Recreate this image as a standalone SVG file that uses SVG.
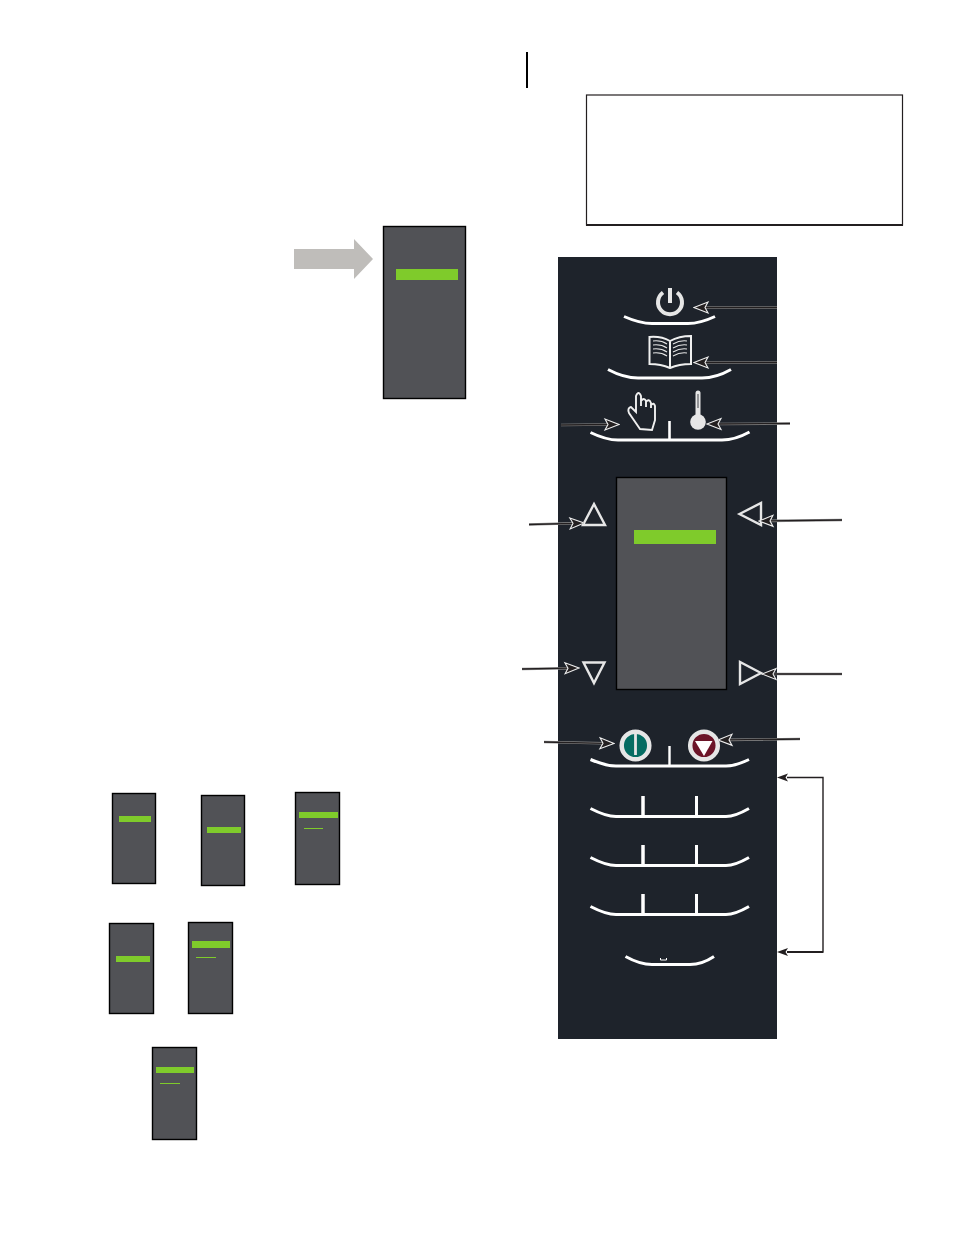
<svg xmlns="http://www.w3.org/2000/svg" width="954" height="1235" viewBox="0 0 954 1235">
<style>
.scr{fill:#515256;stroke:#000;stroke-width:1.4}
.grn{fill:#7fcb2b}
.gl{stroke:#7fcb2b;stroke-width:1;fill:none}
.arc{fill:none;stroke:#fff;stroke-width:3}
.tick{stroke:#fff;fill:none}
.ic{fill:none;stroke:#e6e6e6;stroke-width:2.4}
.th{fill:none;stroke:#e6e6e6;stroke-width:1.1}
.ar{fill:none;stroke:#8f8f8f;stroke-width:2.6}
.ak{fill:none;stroke:#231f20;stroke-width:1.3}
.hd{marker-start:url(#oh)}
.br{fill:none;stroke:#231f20;stroke-width:1.4}
</style>
<defs>
<marker id="oh" markerUnits="userSpaceOnUse" markerWidth="20" markerHeight="18" refX="1" refY="9" orient="auto">
<path d="M1,9 L15,3.500 L12,9 L15,14.500 Z" fill="#231f20" stroke="#efefef" stroke-width="1.100"/>
</marker>
</defs>
<g id="margin-rule"><rect x="526" y="52" width="2" height="36" fill="#000"/></g>
<g id="note-box"><rect x="586.500" y="95" width="316" height="130" fill="#fff" stroke="#231f20" stroke-width="1.200"/><path d="M586,225H903" stroke="#231f20" stroke-width="2"/></g>
<g id="grey-arrow"><path d="M294,249H354V239L373,259L354,279V269H294Z" fill="#bfbdba"/></g>
<g id="top-screen"><rect class="scr" x="383.500" y="226.500" width="82" height="172"/><rect class="grn" x="396" y="269" width="62" height="11"/></g>
<g id="panel"><rect x="558" y="257" width="219" height="782" fill="#1e232b"/></g>
<g id="power-key">
<path class="arc" d="M624,316.500Q640,323.500 652,323.500H688Q700,323.500 715,316.500"/>
<path d="M663,292.500A12,12 0 1 0 677,292.500" fill="none" stroke="#e6e6e6" stroke-width="4"/>
<path d="M670,288V303" fill="none" stroke="#e6e6e6" stroke-width="4"/>
</g>
<g id="book-key">
<path class="arc" d="M608,369.500Q624,378 638,378H702Q716,378 731,369.500"/>
<path d="M649.500,337V364Q661,364 670,368Q679,364 691,364V336Q679,336 670,341Q661,336 649.500,337Z M670,341V368" fill="none" stroke="#f0f0f0" stroke-width="2"/>
<path class="th" d="M653,341Q661,340 667,344M653,345Q661,344 667,348M653,349Q661,348 667,352M653,353Q661,352 667,356M673,344Q680,340 687,341M673,348Q680,344 687,345M673,352Q680,348 687,349M673,356Q680,352 687,353"/>
</g>
<g id="hand-temp-key">
<path class="arc" d="M590.500,432.500Q606,440 618,440H722Q735,440 749.500,432"/>
<path class="tick" stroke-width="2.600" d="M669.500,421V440"/>
<path d="M640,429L629,413Q627,408 631,407L636,412V396Q638.500,390 641,396V406V401Q644,397 646,401V407V402Q649,398 651,403V408V405Q654,402 655,406V420L652,430Z" fill="none" stroke="#f0f0f0" stroke-width="1.900"/>
<path d="M698,393V416" fill="none" stroke="#e6e6e6" stroke-width="5" stroke-linecap="round"/>
<path d="M698,394V408" fill="none" stroke="#77797c" stroke-width="1.500"/>
<circle cx="698" cy="422" r="7.800" fill="#e6e6e6"/>
</g>
<g id="main-screen"><rect class="scr" x="616.500" y="477.500" width="110" height="212"/><rect class="grn" x="634" y="530" width="82" height="14"/></g>
<g id="key-up"><path class="ic" d="M594,504L605,525H583Z"/></g>
<g id="key-left"><path class="ic" d="M739.500,514L761,503V525Z"/></g>
<g id="key-down"><path class="ic" d="M583.500,662.500H604.500L594,683Z"/></g>
<g id="key-right"><path class="ic" d="M761,673L740,662V684Z"/></g>
<g id="start-key"><circle cx="635.500" cy="745.500" r="13.800" fill="#056c62" stroke="#e6e6e6" stroke-width="4.500"/><path d="M635.500,734V755" stroke="#e6e6e6" stroke-width="2.800"/></g>
<g id="stop-key"><circle cx="704" cy="745.500" r="13.800" fill="#6c1428" stroke="#e6e6e6" stroke-width="4.500"/><path d="M695,741H712.500L704,756Z" fill="#fff"/></g>
<g id="row-0"><path class="arc" d="M590.500,759.500Q606,766 616,766H726Q735,766 749,759.500"/><path class="tick" stroke-width="2.400" d="M669.500,746V766"/></g>
<g id="row-1"><path class="arc" d="M590.500,808.500Q606,816.500 616,816.500H726Q735,816.500 749,808.500"/><path class="tick" stroke-width="3.500" d="M643,796V817"/><path class="tick" stroke-width="3" d="M696.500,796V817"/></g>
<g id="row-2"><path class="arc" d="M590.500,857.500Q606,865.500 616,865.500H726Q735,865.500 749,857.500"/><path class="tick" stroke-width="3.500" d="M643,845V866"/><path class="tick" stroke-width="3" d="M696.500,845V866"/></g>
<g id="row-3"><path class="arc" d="M590.500,906.500Q606,914.500 616,914.500H726Q735,914.500 749,906.500"/><path class="tick" stroke-width="3.500" d="M643,894V915"/><path class="tick" stroke-width="3" d="M696.500,894V915"/></g>
<g id="row-4"><path class="arc" d="M625.500,956.500Q640,964.500 652,964.500H690Q702,964.500 714,956.500"/><path d="M660.500,958V960H666.500V958" fill="none" stroke="#fff" stroke-width="1"/></g>
<g id="screen-1"><rect class="scr" x="112.500" y="793.500" width="43" height="90"/><rect class="grn" x="119" y="816" width="32" height="6"/></g>
<g id="screen-2"><rect class="scr" x="201.500" y="795.500" width="43" height="90"/><rect class="grn" x="207" y="827" width="34" height="6"/></g>
<g id="screen-3"><rect class="scr" x="295.500" y="792.500" width="44" height="92"/><rect class="grn" x="299" y="812" width="39" height="6"/><path class="gl" d="M304,828.500H323"/></g>
<g id="screen-4"><rect class="scr" x="109.500" y="923.500" width="44" height="90"/><rect class="grn" x="116" y="956" width="34" height="6"/></g>
<g id="screen-5"><rect class="scr" x="188.500" y="922.500" width="44" height="91"/><rect class="grn" x="192" y="941" width="38" height="7"/><path class="gl" d="M196,957.500H216"/></g>
<g id="screen-6"><rect class="scr" x="152.500" y="1047.500" width="44" height="92"/><rect class="grn" x="156" y="1067" width="38" height="6"/><path class="gl" d="M160,1083.500H180"/></g>
<g id="connectors">
<path class="ar" d="M704,307.500L777,307.500"/><path class="ak" d="M704,307.500L777,307.500"/><path class="ak hd" d="M694,307.500L704,307.500"/>
<path class="ar" d="M704,362.500L777,362.500"/><path class="ak" d="M704,362.500L777,362.500"/><path class="ak hd" d="M694,362.500L704,362.500"/>
<path class="ar" d="M609,424.500L561,425"/><path class="ak" d="M609,424.500L561,425"/><path class="ak hd" d="M619,424.500L609,424.500"/>
<path class="ar" d="M717,424L790,423.500"/><path class="ak" d="M717,424L790,423.500"/><path class="ak hd" d="M707,424L717,424"/>
<path class="ar" d="M574,523.300L529,524.500"/><path class="ak" d="M574,523.300L529,524.500"/><path class="ak hd" d="M584,523L574,523.300"/>
<path class="ar" d="M769,520.900L842,520"/><path class="ak" d="M769,520.900L842,520"/><path class="ak hd" d="M759,521L769,520.900"/>
<path class="ar" d="M569,668.200L522,669"/><path class="ak" d="M569,668.200L522,669"/><path class="ak hd" d="M579,668L569,668.200"/>
<path class="ar" d="M772,674L842,674"/><path class="ak" d="M772,674L842,674"/><path class="ak hd" d="M762,674L772,674"/>
<path class="ar" d="M604,743.300L544,742"/><path class="ak" d="M604,743.300L544,742"/><path class="ak hd" d="M614,743.500L604,743.300"/>
<path class="ar" d="M728,739.900L800,739"/><path class="ak" d="M728,739.900L800,739"/><path class="ak hd" d="M718,740L728,739.900"/>
<path class="br" d="M787,777.500H823V952H787"/>
<path d="M787,952H823" stroke="#231f20" stroke-width="2" fill="none"/>
<path d="M777,777.500L788,773.500L785.500,777.500L788,781.500Z" fill="#231f20"/>
<path d="M777,952L788,948L785.500,952L788,956Z" fill="#231f20"/>
</g>
</svg>
